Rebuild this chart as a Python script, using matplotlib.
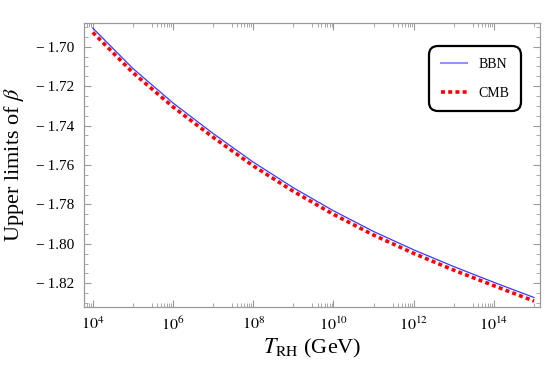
import numpy as np
import matplotlib
matplotlib.use("Agg")
import matplotlib.pyplot as plt
from matplotlib.ticker import FixedLocator, MultipleLocator, NullFormatter, FuncFormatter

# reheating temperature (GeV), one point per decade
t_rh = [1e4, 1e5, 1e6, 1e7, 1e8, 1e9, 1e10, 1e11, 1e12, 1e13, 1e14, 1e15]

beta_bbn = [-1.6905, -1.7110, -1.7285, -1.7440, -1.7585, -1.7715,
            -1.7832, -1.7937, -1.8030, -1.8115, -1.8195, -1.8272]
beta_cmb = [-1.6927, -1.7131, -1.7305, -1.7459, -1.7604, -1.7733,
            -1.7850, -1.7955, -1.8048, -1.8133, -1.8212, -1.8290]

x_major = [1e4, 1e6, 1e8, 1e10, 1e12, 1e14]

plt.rcParams["font.family"] = ["Liberation Serif", "DejaVu Serif"]
plt.rcParams["mathtext.fontset"] = "stix"

frame_col = "#9a9a9a"

fig = plt.figure(figsize=(5.45, 3.67), dpi=100)
ax = fig.add_axes([0.154, 0.164, 0.837, 0.773])

ax.plot(t_rh, beta_bbn, color="#3a3aff", lw=0.9, label="BBN")
ax.plot(t_rh, beta_cmb, color="red", lw=2.6, ls=(0, (1.1, 0.9)), label="CMB")

ax.set_xscale("log")
ax.set_xlim(10**3.78, 10**15.15)
ax.set_ylim(-1.8319, -1.688)

ax.xaxis.set_major_locator(FixedLocator(x_major))
minor = []
for d in range(3, 16, 2):
    for k in [1, 3, 4, 5, 6, 7, 8, 9]:
        minor.append(k * 10.0**d)
ax.xaxis.set_minor_locator(FixedLocator(minor))
ax.xaxis.set_minor_formatter(NullFormatter())
ax.xaxis.set_major_formatter(FuncFormatter(lambda v, p: r"$10^{%d}$" % round(np.log10(v))))
ax.yaxis.set_major_locator(MultipleLocator(0.02))
ax.yaxis.set_minor_locator(MultipleLocator(0.005))
ax.yaxis.set_major_formatter(FuncFormatter(lambda v, p: ("%.2f" % v).replace("-", "\u2212\u2009")))

for s in ax.spines.values():
    s.set_color(frame_col)
    s.set_linewidth(0.9)
ax.tick_params(which="both", direction="in", top=True, right=True,
               color=frame_col, labelcolor="black")
ax.tick_params(axis="y", labelsize=11)
ax.tick_params(axis="x", labelsize=11.5)
ax.tick_params(which="major", length=5, width=0.8, pad=7)
ax.tick_params(which="minor", length=2.8, width=0.6)

ax.set_xlabel(r"$T_{\mathrm{RH}}$ (GeV)", fontsize=16)
ax.set_ylabel(r"Upper limits of $\beta$", fontsize=16)
ax.xaxis.set_label_coords(0.501, -0.105)
ax.yaxis.set_label_coords(-0.127, 0.5)

leg = ax.legend(loc="upper right", bbox_to_anchor=(0.958, 0.92),
                fontsize=10, frameon=True, fancybox=True,
                handlelength=1.9, borderpad=0.85, labelspacing=1.15,
                handletextpad=0.8, borderaxespad=0)
fr = leg.get_frame()
fr.set_edgecolor("black")
fr.set_linewidth(1.6)
fr.set_alpha(1)
fr.set_boxstyle("round,pad=0,rounding_size=0.65")
leg.get_lines()[0].set_alpha(0.55)
leg.get_lines()[0].set_linewidth(1.5)

fig.savefig("out.png", dpi=100)
